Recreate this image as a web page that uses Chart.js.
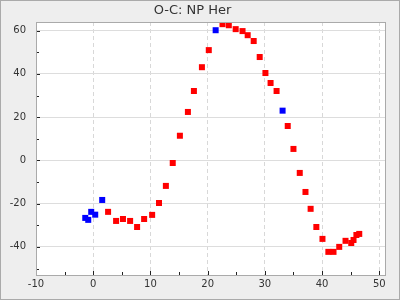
<!DOCTYPE html>
<html>
<head>
<meta charset="utf-8">
<script src="https://cdn.jsdelivr.net/npm/chart.js@4"></script>
<style>
	html, body { margin: 0; padding: 0; background: #eeeeee; }
	#wrap { width: 400px; height: 300px; }
</style>
</head>
<body>
<div id="wrap"><canvas id="myChart" width="400" height="300"></canvas></div>
<script>
const title = "O-C: NP Her";

// puntos rojos
const redX = [2.6, 4.0, 5.2, 6.45, 7.67, 8.9, 10.3, 11.5, 12.7, 13.9, 15.15, 16.55, 17.6, 19.0, 20.2,
	22.6, 23.7, 24.9, 26.1, 27.0, 28.05, 29.1, 30.1, 31.0, 32.05, 34.0, 35.0, 36.1, 37.1, 38.0,
	39.0, 40.07, 41.1, 42.0, 43.0, 44.1, 45.1, 45.5, 46.0, 46.5];
const redY = [-23.8, -28.0, -27.1, -28.0, -30.8, -27.1, -25.2, -19.7, -11.8, -1.2, 11.4, 22.4, 32.1, 43.1, 51.0,
	63.0, 62.5, 60.7, 59.8, 57.9, 55.2, 47.8, 40.4, 35.8, 32.1, 15.9, 5.3, -5.8, -14.6, -22.4,
	-30.8, -36.3, -42.3, -42.3, -40.0, -37.2, -38.2, -36.8, -34.5, -34.0];

// puntos azules
const blueX = [-1.39, -0.87, -0.35, 0.35, 1.57, 21.4, 33.1];
const blueY = [-26.6, -27.5, -23.8, -25.1, -18.3, 60.2, 23.0];

const xMin = -10, xMax = 51, xStep = 5, xLabelEvery = 10;
const yMin = -53, yMax = 64, yStep = 10, yLabelEvery = 20;

function toPoints(xs, ys) {
	return xs.map((x, i) => ({ x, y: ys[i] }));
}

const frame = {
	id: "frame",
	beforeDraw(chart) {
		const { ctx, chartArea: a } = chart;
		ctx.save();
		ctx.fillStyle = "#eeeeee";
		ctx.fillRect(0, 0, chart.width, chart.height);
		ctx.strokeStyle = "#aaaaaa";
		ctx.strokeRect(0.5, 0.5, chart.width - 1, chart.height - 1);
		ctx.fillStyle = "white";
		ctx.fillRect(a.left, a.top, a.right - a.left, a.bottom - a.top);
		ctx.restore();
	},
	afterDraw(chart) {
		const { ctx, chartArea: a, scales } = chart;
		ctx.save();
		ctx.strokeStyle = "#222222";
		ctx.lineWidth = 1;
		ctx.beginPath();
		scales.x.ticks.forEach(t => {
			const px = Math.round(scales.x.getPixelForValue(t.value)) + 0.5;
			const len = t.value % xLabelEvery === 0 ? 4 : 3;
			ctx.moveTo(px, a.bottom);
			ctx.lineTo(px, a.bottom - len);
		});
		scales.y.ticks.forEach(t => {
			const py = Math.round(scales.y.getPixelForValue(t.value)) + 0.5;
			const len = t.value % yLabelEvery === 0 ? 4 : 3;
			ctx.moveTo(a.left, py);
			ctx.lineTo(a.left + len, py);
		});
		ctx.stroke();
		ctx.strokeStyle = "#aaaaaa";
		ctx.strokeRect(Math.round(a.left) + 0.5, Math.round(a.top) + 0.5,
			Math.round(a.right - a.left), Math.round(a.bottom - a.top));
		ctx.restore();
	}
};

const config = {
	type: "scatter",
	data: {
		datasets: [
			{
				label: "rojo",
				data: toPoints(redX, redY),
				backgroundColor: "#ff0000",
				borderWidth: 0,
				pointStyle: "rect",
				pointRadius: 4.25
			},
			{
				label: "azul",
				data: toPoints(blueX, blueY),
				backgroundColor: "#0000ff",
				borderWidth: 0,
				pointStyle: "rect",
				pointRadius: 4.25
			}
		]
	},
	options: {
		responsive: false,
		animation: false,
		layout: { padding: { top: 0, right: 15, left: 0, bottom: 0 } },
		plugins: {
			legend: { display: false },
			tooltip: { enabled: false },
			title: {
				display: true,
				text: title,
				color: "#333333",
				font: { family: "DejaVu Sans", size: 13, weight: "normal" },
				padding: { top: 3, bottom: 3.4 }
			}
		},
		scales: {
			x: {
				type: "linear",
				min: xMin,
				max: xMax,
				afterFit: s => { s.height = 25; },
				ticks: {
					stepSize: xStep,
					includeBounds: false,
					autoSkip: false,
					maxRotation: 0,
					padding: 3,
					color: "#333333",
					font: { family: "DejaVu Sans", size: 10 },
					callback: v => v % xLabelEvery === 0 ? v : ""
				},
				grid: {
					drawTicks: false,
					color: ctx => ctx.tick && ctx.tick.value % xLabelEvery === 0 ? "#d8d8d8" : "rgba(0,0,0,0)"
				},
				border: { display: false, dash: [4, 3] }
			},
			y: {
				type: "linear",
				min: yMin,
				max: yMax,
				afterFit: s => { s.width = 36; },
				ticks: {
					stepSize: yStep,
					includeBounds: false,
					autoSkip: false,
					padding: 10,
					color: "#333333",
					font: { family: "DejaVu Sans", size: 10 },
					callback: v => v % yLabelEvery === 0 ? v : ""
				},
				grid: {
					drawTicks: false,
					color: ctx => ctx.tick && ctx.tick.value % yLabelEvery === 0 ? "#dddddd" : "rgba(0,0,0,0)"
				},
				border: { display: false }
			}
		}
	},
	plugins: [frame]
};

new Chart(document.getElementById("myChart"), config);
</script>
</body>
</html>
